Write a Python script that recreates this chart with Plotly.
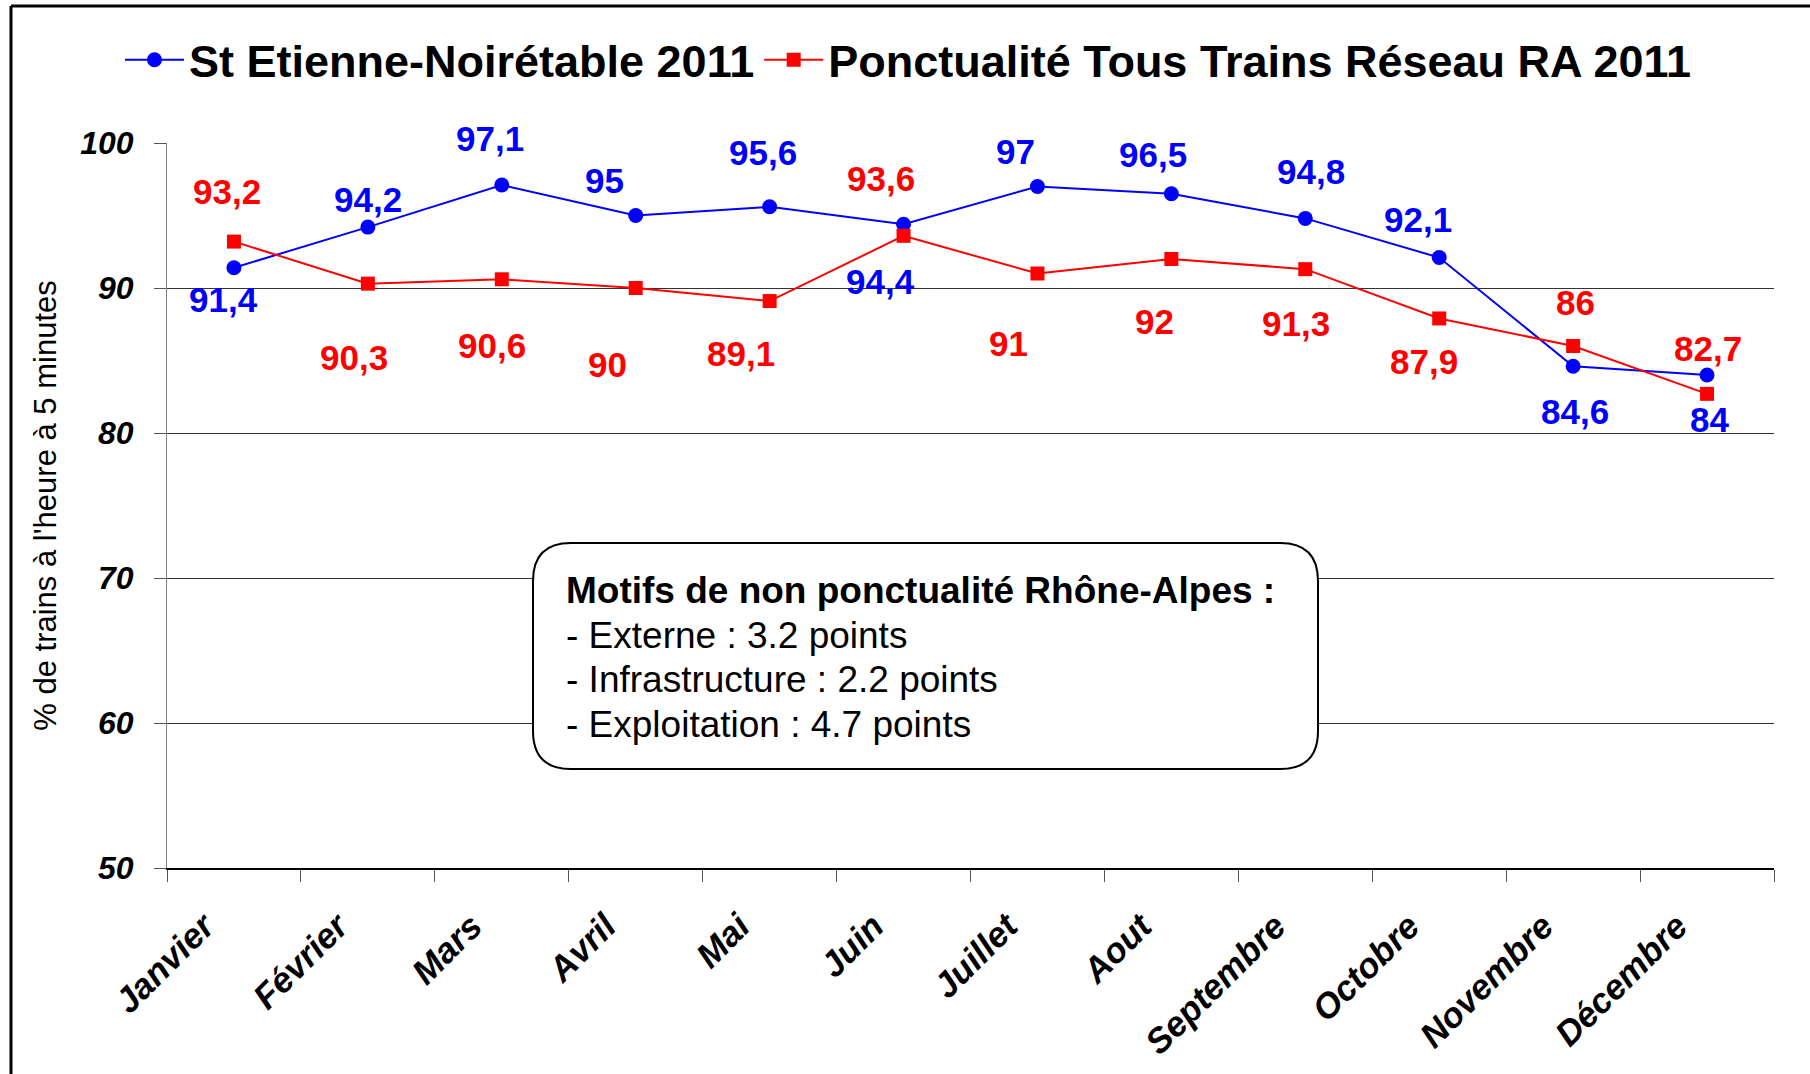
import plotly.graph_objects as go

# ---------------- data ----------------
months = ["Janvier", "Février", "Mars", "Avril", "Mai", "Juin", "Juillet",
          "Aout", "Septembre", "Octobre", "Novembre", "Décembre"]
st_etienne = [91.4, 94.2, 97.1, 95, 95.6, 94.4, 97, 96.5, 94.8, 92.1, 84.6, 84]
reseau_ra = [93.2, 90.3, 90.6, 90, 89.1, 93.6, 91, 92, 91.3, 87.9, 86, 82.7]
name_st = "St Etienne-Noirétable 2011"
name_ra = "Ponctualité Tous Trains Réseau RA 2011"
y_ticks = [50, 60, 70, 80, 90, 100]
box_title = "Motifs de non ponctualité Rhône-Alpes :"
box_lines = ["- Externe : 3.2 points", "- Infrastructure : 2.2 points",
             "- Exploitation : 4.7 points"]

# label offsets (pixels) as placed in the original
st_dx = [-10, 0, -12, -31, -7, -23, -22, -18, 6, -21, 2, 2]
st_dy = [32, -28, -47, -35, -54, 57, -35, -39, -47, -38, 45, 44]
ra_dx = [-7, -14, -10, -28, -29, -23, -29, -17, -9, -15, 2, 1]
ra_dy = [-50, 74, 66, 76, 52, -57, 70, 62, 54, 43, -44, -45]

BLUE = "#0000FF"
RED = "#FF0000"
FONT = "Liberation Sans, Arial, sans-serif"

W, H = 1810, 1074
L, R, T, B = 167, 1774, 143, 868


def px(x):
    return (x - L) / (R - L)


def py(y):
    return (B - y) / (B - T)


def fmt(v):
    return ("%g" % v).replace(".", ",")


fig = go.Figure()
fig.add_trace(go.Scatter(
    x=months, y=st_etienne, name=name_st, mode="lines+markers",
    line=dict(color=BLUE, width=2),
    marker=dict(symbol="circle", size=15, color=BLUE)))
fig.add_trace(go.Scatter(
    x=months, y=reseau_ra, name=name_ra, mode="lines+markers",
    line=dict(color=RED, width=2),
    marker=dict(symbol="square", size=14, color=RED)))

annotations = []
for m, v, dx, dy in zip(months, st_etienne, st_dx, st_dy):
    annotations.append(dict(x=m, y=v, text=fmt(v), showarrow=False,
                            xshift=dx, yshift=-dy,
                            font=dict(family=FONT, size=35, color=BLUE, weight="bold")))
for m, v, dx, dy in zip(months, reseau_ra, ra_dx, ra_dy):
    annotations.append(dict(x=m, y=v, text=fmt(v), showarrow=False,
                            xshift=dx, yshift=-dy,
                            font=dict(family=FONT, size=35, color=RED, weight="bold")))

# text box
box_x0, box_x1, box_y0, box_y1, rad = 533, 1318, 543, 769, 38
text_x = 564
line_ys = [590, 635, 679, 724]
for i, (txt, ly) in enumerate(zip([box_title] + box_lines, line_ys)):
    annotations.append(dict(xref="paper", yref="paper", x=px(text_x), y=py(ly),
                            xanchor="left", yanchor="middle", showarrow=False,
                            text=("<b>%s</b>" % txt) if i == 0 else txt,
                            font=dict(family=FONT, size=37, color="black")))

path = ("M{a},{b} L{c},{b} Q{d},{b} {d},{e} L{d},{f} Q{d},{g} {c},{g} "
        "L{a},{g} Q{h},{g} {h},{f} L{h},{e} Q{h},{b} {a},{b} Z").format(
    a=px(box_x0 + rad), b=py(box_y0), c=px(box_x1 - rad), d=px(box_x1),
    e=py(box_y0 + rad), f=py(box_y1 - rad), g=py(box_y1), h=px(box_x0))

shapes = [
    dict(type="path", xref="paper", yref="paper", path=path,
         line=dict(color="black", width=2), fillcolor="white", layer="above"),
    # outer frame
    dict(type="line", xref="paper", yref="paper", x0=px(11), x1=px(1830),
         y0=py(6), y1=py(6), line=dict(color="black", width=3)),
    dict(type="line", xref="paper", yref="paper", x0=px(11), x1=px(11),
         y0=py(6), y1=py(1090), line=dict(color="black", width=3)),
]

fig.update_layout(
    width=W, height=H,
    margin=dict(l=L, r=W - R, t=T, b=H - B, autoexpand=False),
    paper_bgcolor="white", plot_bgcolor="white",
    font=dict(family=FONT, color="black"),
    showlegend=True,
    legend=dict(orientation="h", x=px(120), y=py(60), xanchor="left", yanchor="middle",
                font=dict(family=FONT, size=45, color="black", weight="bold"),
                itemwidth=59, tracegroupgap=0, bgcolor="rgba(0,0,0,0)"),
    annotations=annotations,
    shapes=shapes,
)
fig.update_xaxes(
    type="category", range=[-0.5, len(months) - 0.5],
    showgrid=False, showline=True, linecolor="black", linewidth=1.5,
    ticks="outside", tickson="boundaries", ticklen=12, tickcolor="#555",
    tickangle=-45, ticklabelshift=-30, ticklabelstandoff=22,
    tickfont=dict(family=FONT, size=35, color="black", weight="bold", style="italic"),
)
fig.update_yaxes(
    range=[50, 100], tickvals=y_ticks,
    showgrid=True, gridcolor="#333", gridwidth=1,
    showline=True, linecolor="#808080", linewidth=1,
    ticks="outside", ticklen=12, tickcolor="#555",
    ticklabelstandoff=14,
    tickfont=dict(family=FONT, size=32, color="black", weight="bold", style="italic"),
    title=dict(text="% de trains à l'heure à 5 minutes", standoff=14,
               font=dict(family=FONT, size=31, color="black")),
    zeroline=False,
)

fig.write_html("out.html", config={"displayModeBar": False},
               post_script="document.body.style.margin='0';document.body.style.overflow='hidden';")
